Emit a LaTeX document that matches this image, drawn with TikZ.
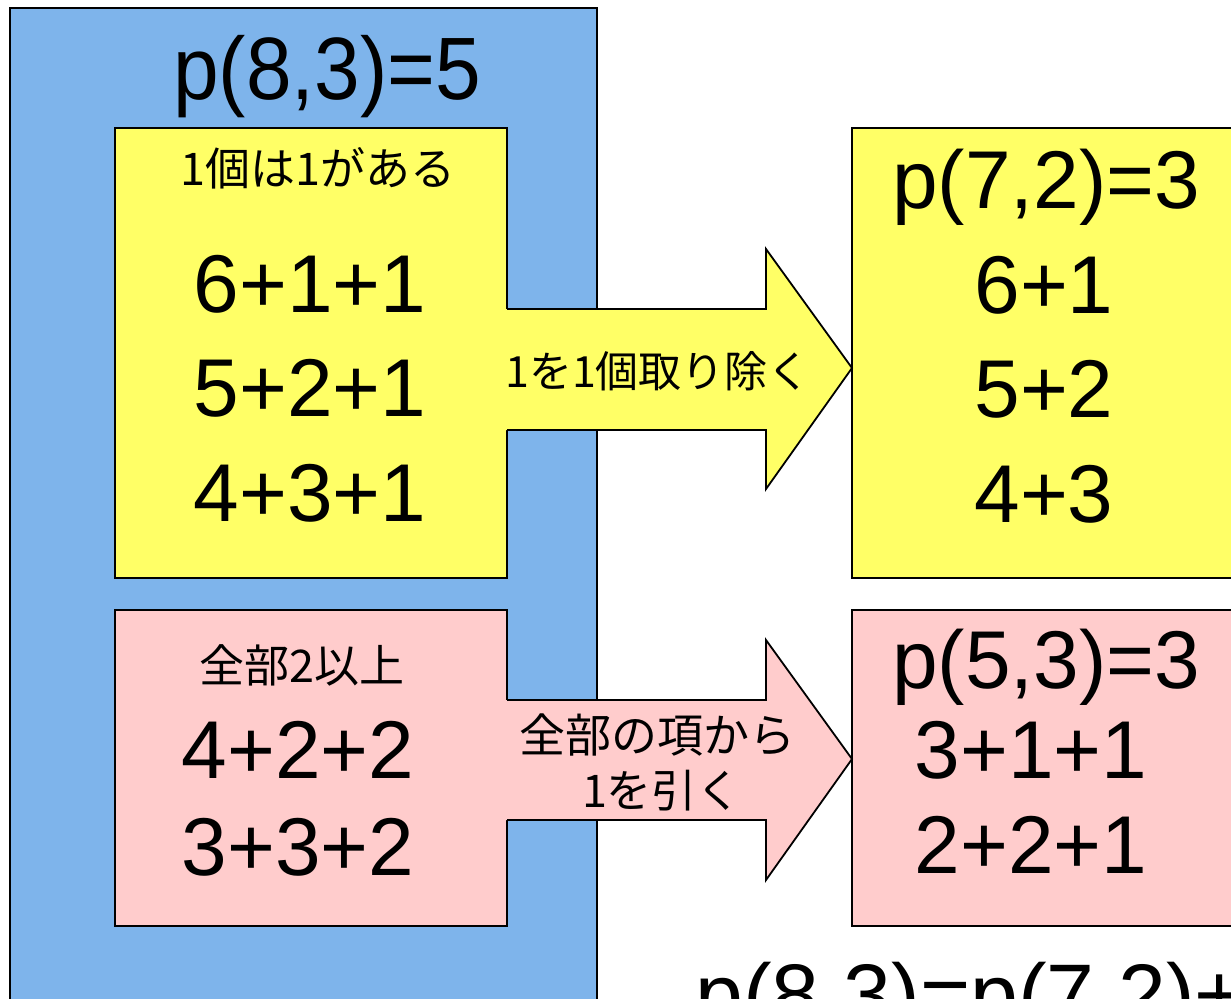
\documentclass[tikz,border=0pt]{standalone}
\usepackage{fontspec}
\setmainfont{Liberation Sans}
\newfontfamily\jfont{Noto Sans CJK JP}
\definecolor{bluebg}{RGB}{126,180,235}
\definecolor{yel}{RGB}{255,255,102}
\definecolor{pnk}{RGB}{255,204,204}
\begin{document}
\begin{tikzpicture}[x=0.5pt,y=-0.5pt,
  box/.style={draw=black,line width=0.9pt},
  big/.style={anchor=base,inner sep=0pt,font=\fontsize{41}{49}\selectfont},
  jp/.style={anchor=base,inner sep=0pt,font=\jfont\fontsize{22.5}{27}\selectfont}]
\useasboundingbox (0,0) rectangle (1231,998);
\clip (0,0) rectangle (1231,998);
% outer blue panel
\draw[box,fill=bluebg] (10,8) rectangle (597,1030);
\begin{scope}[shift={(327,99)},yscale=1.08]
\node[big,transform shape] (t83) at (0,0) {p(8,3)=5};
\end{scope}
% left boxes
\draw[box,fill=yel] (115,128) rectangle (507,578);
\draw[box,fill=pnk] (115,610) rectangle (507,926);
% right boxes
\draw[box,fill=yel] (852,128) rectangle (1270,578);
\draw[box,fill=pnk] (852,610) rectangle (1270,926);
% arrows
\fill[yel] (505,309) -- (766,309) -- (766,249) -- (852,368) -- (766,489) -- (766,430) -- (505,430) -- cycle;
\draw[line width=0.9pt,line join=miter] (507,309) -- (766,309) -- (766,249) -- (852,368) -- (766,489) -- (766,430) -- (507,430);
\fill[pnk] (505,700) -- (766,700) -- (766,640) -- (852,759) -- (766,880) -- (766,820) -- (505,820) -- cycle;
\draw[line width=0.9pt,line join=miter] (507,700) -- (766,700) -- (766,640) -- (852,759) -- (766,880) -- (766,820) -- (507,820);
% left yellow content
\node[jp] (h1) at (318,185) {1個は1がある};
\node[big] (a1) at (310,312) {6+1+1};
\node[big] (a2) at (310,416) {5+2+1};
\node[big] (a3) at (310,521) {4+3+1};
% left pink content
\node[jp] (h2) at (302,682) {全部2以上};
\node[big] (b1) at (298,778) {4+2+2};
\node[big] (b2) at (298,875) {3+3+2};
% arrow labels
\node[jp,font=\jfont\fontsize{21.5}{26}\selectfont] (l1) at (658,387) {1を1個取り除く};
\node[jp,font=\jfont\fontsize{23}{27}\selectfont] (l2a) at (657,752) {全部の項から};
\node[jp] (l2b) at (662,807) {1を引く};
% right yellow content
\node[big] (t72) at (1046,208) {p(7,2)=3};
\node[big] (c1) at (1044,313) {6+1};
\node[big] (c2) at (1044,417) {5+2};
\node[big] (c3) at (1044,522) {4+3};
% right pink content
\node[big] (t53) at (1046,688) {p(5,3)=3};
\node[big] (d1) at (1031,778) {3+1+1};
\node[big] (d2) at (1031,873) {2+2+1};
% bottom equation (cut off by the frame, as in the reference)
\node[big,anchor=base west,font=\fontsize{43}{51}\selectfont] (eq) at (695,1024) {p(8,3)=p(7,2)+p(5,3)};
\end{tikzpicture}
\end{document}
